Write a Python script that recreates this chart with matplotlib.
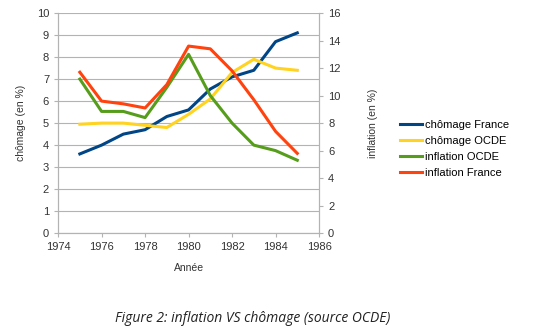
import matplotlib.pyplot as plt

# données
annees = [1975, 1976, 1977, 1978, 1979, 1980, 1981, 1982, 1983, 1984, 1985]
chomage_france = [3.6, 4.0, 4.5, 4.7, 5.3, 5.6, 6.55, 7.1, 7.4, 8.7, 9.1]
chomage_ocde = [4.95, 5.0, 5.0, 4.9, 4.8, 5.4, 6.1, 7.3, 7.9, 7.5, 7.4]
inflation_ocde = [11.2, 8.85, 8.85, 8.4, 10.6, 13.0, 10.0, 8.0, 6.4, 6.0, 5.3]
inflation_france = [11.7, 9.6, 9.4, 9.1, 10.8, 13.6, 13.4, 11.8, 9.7, 7.4, 5.8]

plt.rcParams['font.family'] = ['Liberation Sans', 'DejaVu Sans']

fig = plt.figure(figsize=(5.38, 3.35), dpi=100)
ax = fig.add_axes([0.108, 0.304, 0.485, 0.657])
ax2 = ax.twinx()

gris = '#b3b3b3'
lw = 2.2
l1, = ax.plot(annees, chomage_france, color='#004586', lw=lw, label='chômage France')
l2, = ax.plot(annees, chomage_ocde, color='#ffd320', lw=lw, label='chômage OCDE')
l3, = ax2.plot(annees, inflation_ocde, color='#579d1c', lw=lw, label='inflation OCDE')
l4, = ax2.plot(annees, inflation_france, color='#ff420e', lw=lw, label='inflation France')

ax.set_xlim(1974, 1986)
ax.set_xticks(range(1974, 1987, 2))
ax.set_ylim(0, 10)
ax.set_yticks(range(0, 11))
ax2.set_ylim(0, 16)
ax2.set_yticks(range(0, 17, 2))

ax.grid(axis='y', color=gris, lw=0.8)
ax.set_axisbelow(True)

for a in (ax, ax2):
    for s in a.spines.values():
        s.set_color(gris)
    a.spines['top'].set_visible(False)
    a.tick_params(colors=gris, labelcolor='#333333', labelsize=8, length=3, width=0.8)

ax.set_ylabel('chômage (en %)', fontsize=7.5, color='#333333', labelpad=8)
ax2.set_ylabel('inflation (en %)', fontsize=7.5, color='#333333', labelpad=20)
ax.set_xlabel('Année', fontsize=7.5, color='#333333', labelpad=8)

fig.legend(handles=[l1, l2, l3, l4], loc='upper left', bbox_to_anchor=(0.735, 0.655),
           frameon=False, fontsize=8, handlelength=2.0, handletextpad=0.3,
           labelspacing=0.55, borderaxespad=0)

fig.text(0.47, 0.05, 'Figure 2: inflation VS chômage (source OCDE)', ha='center',
         va='center', fontsize=10, style='italic', color='#222222', family='Open Sans')

fig.savefig('out.png', dpi=100)
